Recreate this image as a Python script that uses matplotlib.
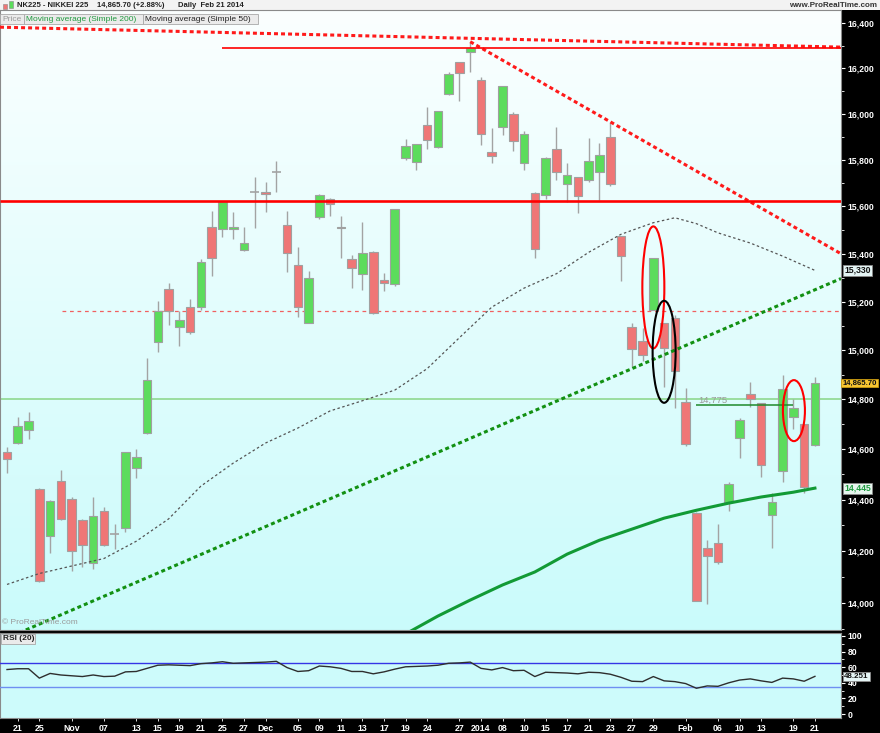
import numpy as np
import matplotlib
matplotlib.use('Agg')
import matplotlib.pyplot as plt
from matplotlib.patches import Ellipse, Rectangle
from matplotlib.transforms import ScaledTranslation
from matplotlib.ticker import FixedLocator, NullFormatter
from matplotlib.colors import LinearSegmentedColormap

plt.rcParams['font.family'] = ['Liberation Sans', 'DejaVu Sans']

# ---------------- data ----------------
opens = [14587, 14623, 14676, 14440, 14259, 14473, 14402, 14318, 14151, 14354,
         14267, 14289, 14525, 14663, 15034, 15252, 15093, 15176, 15176, 15514,
         15504, 15503, 15415, 15660, 15660, 15749, 15520, 15352, 15112, 15554,
         15633, 15509, 15377, 15317, 15408, 15289, 15273, 15809, 15789, 15953,
         15856, 16086, 16227, 16271, 16148, 15833, 15943, 16001, 15785, 15658,
         15648, 15845, 15696, 15725, 15712, 15749, 15899, 15474, 15093, 15037,
         15165, 15112, 15130, 14787, 14349, 14209, 14231, 14389, 14645, 14820,
         14783, 14341, 14513, 14729, 14700, 14616]
highs = [14609, 14729, 14747, 14444, 14398, 14516, 14409, 14322, 14409, 14371,
         14303, 14590, 14600, 14966, 15203, 15276, 15161, 15209, 15377, 15581,
         15625, 15578, 15511, 15727, 15703, 15795, 15581, 15429, 15327, 15655,
         15635, 15561, 15394, 15535, 15410, 15321, 15590, 15892, 15870, 16028,
         16012, 16184, 16229, 16318, 16163, 15936, 16124, 16008, 15925, 15660,
         15811, 15943, 15785, 15727, 15895, 15871, 15964, 15476, 15110, 15089,
         15384, 15113, 15144, 14844, 14350, 14241, 14306, 14470, 14725, 14871,
         14785, 14426, 14898, 14800, 14702, 14889]
lows = [14503, 14620, 14639, 14080, 14192, 14320, 14122, 14138, 14128, 14219,
        14205, 14273, 14486, 14660, 14991, 15105, 15018, 15068, 15165, 15306,
        15469, 15460, 15412, 15507, 15578, 15660, 15324, 15137, 15110, 15546,
        15559, 15384, 15255, 15248, 15147, 15245, 15266, 15799, 15756, 15849,
        15852, 16082, 16057, 16182, 15866, 15785, 15907, 15838, 15756, 15383,
        15634, 15713, 15620, 15573, 15706, 15627, 15689, 15286, 14932, 14956,
        15165, 14851, 14763, 14612, 14006, 13995, 14150, 14354, 14565, 14769,
        14487, 14211, 14470, 14679, 14427, 14614]
closes = [14559, 14692, 14712, 14083, 14395, 14324, 14198, 14223, 14335, 14223,
          14267, 14588, 14567, 14878, 15162, 15162, 15123, 15075, 15365, 15380,
          15620, 15514, 15447, 15660, 15653, 15749, 15405, 15176, 15297, 15651,
          15610, 15513, 15341, 15401, 15151, 15276, 15588, 15859, 15868, 15888,
          16010, 16173, 16180, 16288, 15910, 15816, 16122, 15881, 15912, 15421,
          15809, 15746, 15733, 15643, 15796, 15820, 15695, 15390, 15003, 14980,
          15384, 15007, 14914, 14620, 14008, 14179, 14155, 14461, 14718, 14800,
          14535, 14391, 14843, 14766, 14449, 14865.70]

ma50_idx = [0, 3, 6, 9, 12, 15, 18, 21, 24, 27, 30, 33, 36, 39, 42, 45, 48, 51,
            54, 57, 60, 62, 64, 66, 69, 72, 75]
ma50_val = [14070, 14112, 14141, 14170, 14237, 14324, 14453, 14544, 14624, 14684,
            14753, 14794, 14837, 14924, 15051, 15177, 15256, 15316, 15406, 15482,
            15531, 15552, 15527, 15488, 15445, 15390, 15330]

ma200_idx = [37, 40, 43, 46, 49, 52, 55, 58, 61, 64, 67, 70, 73, 75]
ma200_val = [13881, 13949, 14010, 14068, 14118, 14187, 14241, 14284, 14327, 14358,
             14386, 14410, 14429, 14445]

rsi = [57, 58, 58, 46, 52, 50, 49, 48, 50, 48, 48.5, 54, 54.5, 58.5, 62.5, 63,
       62.5, 62, 64.5, 65.5, 67, 65, 65.5, 66, 66.5, 67.5, 59.5, 54.5, 55.5, 61.5,
       60.5, 58.5, 54.5, 54.5, 51.5, 54, 57.5, 60.5, 61, 61.5, 62.5, 65, 65.5, 66.5,
       58.5, 56.5, 59.5, 55.5, 56, 48, 53.5, 53, 52.5, 51.5, 53.5, 53, 51, 47, 42,
       41.5, 48, 42.5, 41.5, 39, 33, 36, 35.5, 40, 43.5, 45, 42.5, 40.5, 46, 45, 42,
       48.251]
rsi_levels = [65, 35]

tick_idx = [1, 3, 6, 9, 12, 14, 16, 18, 20, 22, 24, 27, 29, 31, 33, 35, 37, 39,
            42, 44, 46, 48, 50, 52, 54, 56, 58, 60, 63, 66, 68, 70, 73, 75]
tick_labels = ['21', '25', 'Nov', '07', '13', '15', '19', '21', '25', '27', 'Dec',
               '05', '09', '11', '13', '17', '19', '24', '27', '2014', '08', '10',
               '15', '17', '21', '23', '27', '29', 'Feb', '06', '10', '13', '19', '21']

price_ticks = [14000, 14200, 14400, 14600, 14800, 15000, 15200, 15400, 15600,
               15800, 16000, 16200, 16400]
rsi_ticks = [0, 20, 40, 60, 80, 100]

# trend lines: (idx0, price0, idx1, price1)
tl_red_top = (-0.65, 16383, 77.42, 16294)
tl_red_down = (43, 16318, 77.42, 15400)
tl_green_up = (-0.65, 13854, 77.42, 15296)
# horizontal levels: (price, start idx)
lvl_red_thick = (15623, -0.65)
lvl_red_top = (16291, 20)
lvl_red_dash = (15161, 5.1)
lvl_green_light = (14800, -0.65)
lvl_green_dark = (14775, 64, 73)
# ellipse marks: (idx, price, colour)
ellipse_marks = [(60, 15259, 'red'), (61, 14993, 'black'), (73.05, 14754, 'red')]
ellipse_px = [(22, 122), (23, 102), (22, 61)]

# ---------------- figure ----------------
W, H = 880, 733
fig = plt.figure(figsize=(W / 100, H / 100), dpi=100, facecolor='black')


def fx(px):
    return px / W


def fy(py):
    return 1 - py / H


XMIN, XMAX = -0.65, 77.42

# header strip
fig.add_artist(Rectangle((0, fy(10)), 1, 10 / H, transform=fig.transFigure,
                         facecolor='#f3f3f3', edgecolor='none', zorder=0))

main_rect = [0, fy(630), fx(841), 620 / H]
ax_bg = fig.add_axes(main_rect)
cmap = LinearSegmentedColormap.from_list('bg', ['#fbffff', '#cafbfb'])
ax_bg.imshow(np.linspace(0, 1, 256).reshape(-1, 1), aspect='auto', cmap=cmap,
             extent=(0, 1, 0, 1), origin='upper')
ax_bg.set_axis_off()

ax = fig.add_axes(main_rect, facecolor='none')
ax.set_yscale('log')

idx = np.arange(len(opens))
for i in idx:
    o, h, l, c = opens[i], highs[i], lows[i], closes[i]
    ax.vlines(i, l, h, color='#a3a3a3', lw=1.0, zorder=3)
    if o == c:
        ax.hlines(o, i - 0.42, i + 0.42, color='#a3a3a3', lw=1.2, zorder=4)
    else:
        col = '#5cdc5c' if c > o else '#ef7676'
        ax.bar(i, abs(c - o), bottom=min(o, c), width=0.8, color=col,
               edgecolor='#a0a0a0', linewidth=0.8, zorder=4)

# moving averages
ax.plot(ma50_idx, ma50_val, color='#555555', lw=0.9, ls=(0, (2, 2)), zorder=5)
ax.plot(ma200_idx, ma200_val, color='#129a35', lw=2.2, zorder=5)

# trend lines
ax.plot([tl_red_top[0], tl_red_top[2]], [tl_red_top[1], tl_red_top[3]],
        color='#ff1a1a', lw=2.2, ls=(0, (1.3, 1.0)), zorder=6)
ax.plot([tl_red_down[0], tl_red_down[2]], [tl_red_down[1], tl_red_down[3]],
        color='#ff1a1a', lw=2.2, ls=(0, (1.3, 1.0)), zorder=6)
ax.plot([tl_green_up[0], tl_green_up[2]], [tl_green_up[1], tl_green_up[3]],
        color='#129012', lw=2.2, ls=(0, (1.3, 1.0)), zorder=6)

# horizontal levels
ax.hlines(lvl_red_thick[0], lvl_red_thick[1], XMAX, color='#ff0000', lw=1.9, zorder=6)
ax.hlines(lvl_red_top[0], lvl_red_top[1], XMAX, color='#ff0000', lw=1.2, zorder=6)
ax.hlines(lvl_red_dash[0], lvl_red_dash[1], XMAX, color='#f06060', lw=0.9,
          linestyles=(0, (3, 3)), zorder=2)
ax.hlines(lvl_green_light[0], lvl_green_light[1], XMAX, color='#8fd88f', lw=1.2, zorder=2)
ax.hlines(lvl_green_dark[0], lvl_green_dark[1], lvl_green_dark[2], color='#1e8a2a',
          lw=1.1, zorder=6)
ax.annotate(f"{lvl_green_dark[0]:,.0f}", xy=(lvl_green_dark[1], lvl_green_dark[0]),
            xytext=(1, 0.5), textcoords='offset points', ha='left', va='bottom',
            fontsize=6.8, color='#9a9a9a', zorder=7)

ax.set_xlim(XMIN, XMAX)
ax.set_ylim(13896, 16460)

ax.yaxis.tick_right()
ax.yaxis.set_major_locator(FixedLocator(price_ticks))
ax.yaxis.set_minor_locator(FixedLocator(np.arange(13900, 16500, 100)))
ax.yaxis.set_minor_formatter(NullFormatter())
ax.set_yticks(price_ticks, labels=[f"{p:,}" for p in price_ticks], fontweight='bold')
ax.tick_params(axis='y', which='major', colors='white', labelsize=6.2, length=3,
               width=0.8, pad=2)
ax.tick_params(axis='y', which='minor', colors='white', length=2, width=0.6)
ax.tick_params(axis='x', which='both', bottom=False, labelbottom=False)
for s in ax.spines.values():
    s.set_color('#8a8a8a')
    s.set_linewidth(0.8)

# ellipses drawn with a fixed pixel size around data points
for (xi, yv, col), (wpx, hpx) in zip(ellipse_marks, ellipse_px):
    tr = fig.dpi_scale_trans + ScaledTranslation(xi, yv, ax.transData)
    fig.add_artist(Ellipse((0, 0), wpx / 100, hpx / 100, transform=tr, fill=False,
                           edgecolor=col, lw=1.5, zorder=8))


def value_box(axis, value, text, fc, tc, ec='#8a8a8a', size=6.2, dx=2.2):
    axis.annotate(text, xy=(1, value), xycoords=axis.get_yaxis_transform(),
                  xytext=(dx, 0), textcoords='offset points', ha='left',
                  va='center', fontsize=size, fontweight='bold', color=tc,
                  bbox=dict(boxstyle='square,pad=0.12', fc=fc, ec=ec, lw=0.6),
                  annotation_clip=False, zorder=10)


value_box(ax, ma50_val[-1], f"{ma50_val[-1]:,.0f}", '#e4f4f4', '#111111')
value_box(ax, closes[-1], f"{closes[-1]:,.2f}", '#f7c531', '#111111', ec='#c89a10',
          size=5.6, dx=1.0)
value_box(ax, ma200_val[-1], f"{ma200_val[-1]:,.0f}", '#e6f6ee', '#1f9a3f')

# ---------------- RSI panel ----------------
ax2 = fig.add_axes([0, fy(718), fx(841), 85 / H], facecolor='#cdfbfb')
ax2.plot(idx, rsi, color='#2e2e2e', lw=1.0, zorder=4)
ax2.axhline(rsi_levels[0], color='#3535e6', lw=1.0, zorder=3)
ax2.axhline(rsi_levels[1], color='#6f8ff2', lw=1.0, zorder=3)
ax2.set_xlim(XMIN, XMAX)
ax2.set_ylim(-5.1, 103.8)
ax2.yaxis.tick_right()
ax2.set_yticks(rsi_ticks, labels=[str(v) for v in rsi_ticks], fontweight='bold')
ax2.yaxis.set_minor_locator(FixedLocator(np.arange(10, 100, 20)))
ax2.tick_params(axis='y', which='major', colors='white', labelsize=6.2, length=3,
                width=0.8, pad=2)
ax2.tick_params(axis='y', which='minor', colors='white', length=2, width=0.6)
ax2.set_xticks(tick_idx, labels=tick_labels, fontweight='bold')
ax2.tick_params(axis='x', colors='white', labelsize=6.3, length=2, width=0.6, pad=2.5)
for s in ax2.spines.values():
    s.set_color('#8a8a8a')
    s.set_linewidth(0.8)
value_box(ax2, rsi[-1], f"{rsi[-1]:.3f}", '#e4f4f4', '#111111', size=5.8)

# ---------------- header / legend texts ----------------
# small candle icon
fig.add_artist(Rectangle((fx(3), fy(9)), 4 / W, 5 / H, transform=fig.transFigure,
                         facecolor='#ef7676', edgecolor='#888888', lw=0.4, zorder=3))
fig.add_artist(Rectangle((fx(9), fy(8)), 4 / W, 7 / H, transform=fig.transFigure,
                         facecolor='#5cdc5c', edgecolor='#888888', lw=0.4, zorder=3))
hdr_y = fy(5.5)
fig.text(fx(17), hdr_y, 'NK225 - NIKKEI 225', fontsize=5.5, fontweight='bold',
         color='#222222', va='center')
fig.text(fx(97), hdr_y, f"{closes[-1]:,.2f} (+2.88%)", fontsize=5.5,
         fontweight='bold', color='#222222', va='center')
fig.text(fx(178), hdr_y, 'Daily  Feb 21 2014', fontsize=5.5, fontweight='bold',
         color='#222222', va='center')
fig.text(fx(877), hdr_y, 'www.ProRealTime.com', fontsize=5.8, fontweight='bold',
         color='#333333', va='center', ha='right')

legend_boxes = [(0, 24, 'Price', '#9a9a9a'),
                (24, 143, 'Moving average (Simple 200)', '#1f9a3f'),
                (143, 258, 'Moving average (Simple 50)', '#222222')]
for x0, x1, txt, tc in legend_boxes:
    fig.add_artist(Rectangle((fx(x0), fy(24)), (x1 - x0) / W, 9.5 / H,
                             transform=fig.transFigure, facecolor='#ebebeb',
                             edgecolor='#a8a8a8', lw=0.6, zorder=9))
    fig.text(fx(x0 + 2), fy(19.3), txt, fontsize=6.0, color=tc, va='center',
             zorder=10)

fig.text(fx(2), fy(622), '\u00a9 ProRealTime.com', fontsize=6, color='#9a9a9a',
         va='center', zorder=10)

fig.add_artist(Rectangle((fx(1), fy(644)), 34 / W, 10 / H, transform=fig.transFigure,
                         facecolor='#ebebeb', edgecolor='#a8a8a8', lw=0.6, zorder=9))
fig.text(fx(3), fy(639), 'RSI (20)', fontsize=6.0, fontweight='bold',
         color='#222222', va='center', zorder=10)

fig.savefig('out.png', dpi=100, facecolor=fig.get_facecolor())
